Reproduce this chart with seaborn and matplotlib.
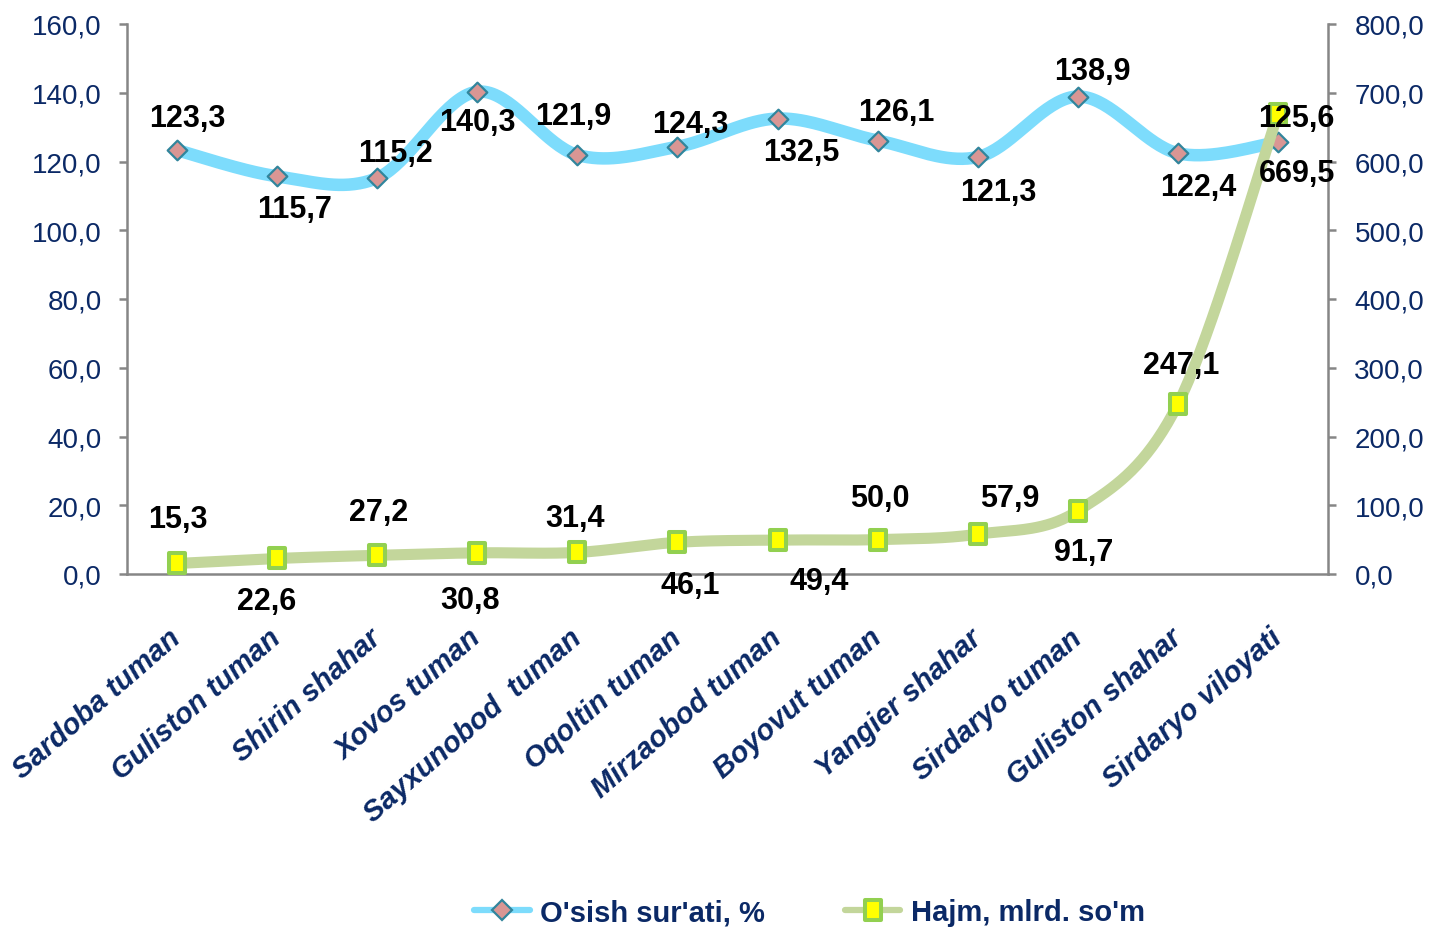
import numpy as np
import pandas as pd
import matplotlib
matplotlib.use("Agg")
import matplotlib.pyplot as plt
import seaborn as sns
from matplotlib.lines import Line2D
from matplotlib.path import Path
from matplotlib.markers import MarkerStyle

# ---------------- data ----------------
categories = ["Sardoba tuman", "Guliston tuman", "Shirin shahar", "Xovos tuman",
              "Sayxunobod  tuman", "Oqoltin tuman", "Mirzaobod tuman", "Boyovut tuman",
              "Yangier shahar", "Sirdaryo tuman", "Guliston shahar", "Sirdaryo viloyati"]
growth = [123.3, 115.7, 115.2, 140.3, 121.9, 124.3, 132.5, 126.1, 121.3, 138.9, 122.4, 125.6]
volume = [15.3, 22.6, 27.2, 30.8, 31.4, 46.1, 49.4, 50.0, 57.9, 91.7, 247.1, 669.5]
left_ticks = [0, 20, 40, 60, 80, 100, 120, 140, 160]
right_ticks = [0, 100, 200, 300, 400, 500, 600, 700, 800]
series_names = ["O'sish sur'ati, %", "Hajm, mlrd. so'm"]

# ---------------- style ----------------
NAVY = "#0B2966"
BLUE = "#7DDCFC"
PINK = "#D99694"
TEAL = "#31859C"
GREEN = "#C3D69B"
GREEN_EDGE = "#92D050"
YELLOW = "#FFFF00"
GREY = "#868686"
NARROW = ["Liberation Sans Narrow", "Liberation Sans", "DejaVu Sans"]
WIDE = ["Liberation Sans", "DejaVu Sans"]

# label offsets in pixels (dx, dy-up)
growth_off = [(10, 32), (17, -33), (18, 25), (0, -30), (-4, 39), (13, 23),
              (24, -33), (19, 29), (21, -35), (15, 26), (20, -34), (18, 24)]
volume_off = [(1, 44), (-10, -43), (1, 43), (-7, -47), (-2, 34), (13, -43),
              (42, -41), (2, 42), (32, 36), (6, -41), (3, 39), (19, -59)]


def smooth(ys, n=40):
    """Excel-like smoothed line (Catmull-Rom Bezier through the points)."""
    xs = np.arange(len(ys), dtype=float)
    ys = np.asarray(ys, dtype=float)
    P = np.column_stack([xs, ys])
    Pp = np.vstack([P[0], P, P[-1]])
    out = []
    t = np.linspace(0, 1, n)[:, None]
    for i in range(len(P) - 1):
        p0, p1, p2, p3 = Pp[i], Pp[i + 1], Pp[i + 2], Pp[i + 3]
        c1 = p1 + (p2 - p0) / 6.0
        c2 = p2 - (p3 - p1) / 6.0
        seg = ((1 - t) ** 3) * p1 + 3 * ((1 - t) ** 2) * t * c1 + 3 * (1 - t) * t ** 2 * c2 + t ** 3 * p2
        out.append(seg if i == 0 else seg[1:])
    arr = np.vstack(out)
    return arr[:, 0], arr[:, 1]


sns.set_style("white")
plt.rcParams["font.family"] = NARROW

fig = plt.figure(figsize=(14.3, 9.29), dpi=100)
ax = fig.add_axes([127 / 1430, 1 - 575 / 929, (1328 - 127) / 1430, 550 / 929])
ax2 = ax.twinx()

idx = np.arange(len(categories))
df = pd.DataFrame({"cat": categories, "i": idx, "growth": growth, "volume": volume})

# growth line (left axis)
gx, gy = smooth(df["growth"].values)
sns.lineplot(x=gx, y=gy, ax=ax, color=BLUE, linewidth=9, sort=False, estimator=None,
             legend=False, zorder=2)
sns.scatterplot(data=df, x="i", y="growth", ax=ax, marker="D", s=100, color=PINK,
                edgecolor=TEAL, linewidth=1.6, legend=False, zorder=4)

# volume line (right axis)
rect = Path([(-0.4, -0.5), (0.4, -0.5), (0.4, 0.5), (-0.4, 0.5), (-0.4, -0.5)],
            [Path.MOVETO, Path.LINETO, Path.LINETO, Path.LINETO, Path.CLOSEPOLY])
vx, vy = smooth(df["volume"].values)
sns.lineplot(x=vx, y=vy, ax=ax2, color=GREEN, linewidth=8, sort=False, estimator=None,
             legend=False, zorder=2)
sns.scatterplot(data=df, x="i", y="volume", ax=ax2, marker=MarkerStyle(rect), s=200,
                color=YELLOW, edgecolor=GREEN_EDGE, linewidth=2.9, legend=False, zorder=4)

# axes limits/ticks
ax.set_xlim(-0.5, len(categories) - 0.5)
ax.set_ylim(left_ticks[0], left_ticks[-1])
ax2.set_ylim(right_ticks[0], right_ticks[-1])
ax.set_yticks(left_ticks)
ax.set_yticklabels([f"{v:.1f}".replace(".", ",") for v in left_ticks])
ax2.set_yticks(right_ticks)
ax2.set_yticklabels([f"{v:.1f}".replace(".", ",") for v in right_ticks])
ax.set_xticks(idx)
ax.set_xticklabels(categories, rotation=41, ha="right", va="center",
                   rotation_mode="anchor", fontsize=21, fontweight="bold",
                   fontstyle="italic", color=NAVY, family=WIDE)
ax.set_xticks(np.arange(-0.5, len(categories)), minor=True)
ax.tick_params(axis="x", which="major", length=0, pad=43)
ax.tick_params(axis="x", which="minor", length=6, width=1.8, color=GREY, direction="out")
ax.tick_params(axis="y", length=6, width=1.8, color=GREY, direction="out", pad=12,
               labelsize=20, labelcolor=NAVY)
ax2.tick_params(axis="y", length=6, width=1.8, color=GREY, direction="out", pad=13,
                labelsize=20, labelcolor=NAVY)
ax.set_xlabel("")
ax.set_ylabel("")
ax2.set_ylabel("")

for a in (ax, ax2):
    for s in a.spines.values():
        s.set_visible(False)
ax.spines["left"].set_visible(True)
ax.spines["bottom"].set_visible(True)
ax2.spines["right"].set_visible(True)
for s in (ax.spines["left"], ax.spines["bottom"], ax2.spines["right"]):
    s.set_color(GREY)
    s.set_linewidth(1.8)
ax.grid(False)
ax2.grid(False)

# data labels
for i, v in enumerate(growth):
    dx, dy = growth_off[i]
    ax2.annotate(f"{v:.1f}".replace(".", ","), xy=(i, v), xycoords=ax.transData,
                 xytext=(dx, dy), textcoords="offset pixels", ha="center", va="center",
                 fontsize=22, fontweight="bold", color="black", zorder=6)
for i, v in enumerate(volume):
    dx, dy = volume_off[i]
    ax2.annotate(f"{v:.1f}".replace(".", ","), xy=(i, v), xycoords=ax2.transData,
                 xytext=(dx, dy), textcoords="offset pixels", ha="center", va="center",
                 fontsize=22, fontweight="bold", color="black", zorder=6)

# legend
handles = [
    Line2D([], [], color=BLUE, lw=4.5, marker="D", ms=10, mfc=PINK, mec=TEAL, mew=1.6),
    Line2D([], [], color=GREEN, lw=4.5, marker=MarkerStyle(rect), ms=14, mfc=YELLOW,
           mec=GREEN_EDGE, mew=2.9),
]
leg = fig.legend(handles, series_names, loc="center", bbox_to_anchor=(0.566, 0.017),
                 ncol=2, frameon=False, handlelength=1.9, handletextpad=0.35,
                 columnspacing=2.75, prop={"family": NARROW, "weight": "bold", "size": 21})
for t in leg.get_texts():
    t.set_color(NAVY)

fig.savefig("out.png", dpi=100)
